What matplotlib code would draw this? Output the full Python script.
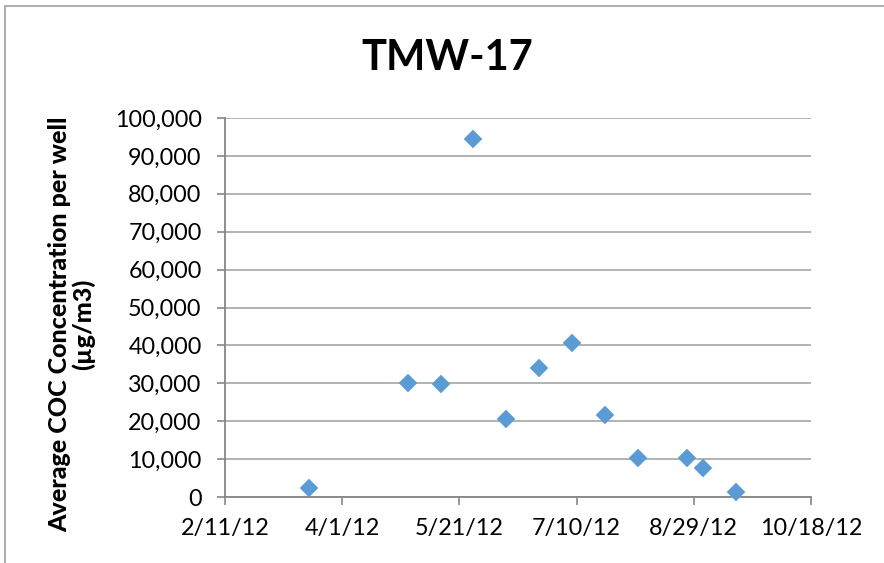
import datetime as dt

import matplotlib
matplotlib.use("Agg")
import matplotlib.pyplot as plt
import matplotlib.dates as mdates
from matplotlib.patches import Rectangle
from matplotlib.ticker import FuncFormatter, FixedLocator

plt.rcParams["font.family"] = ["Lato", "DejaVu Sans"]

# Sampling dates and average COC concentration (ug/m3) for well TMW-17
SAMPLE_DATES = [
    "2012-03-18", "2012-04-29", "2012-05-13", "2012-05-27", "2012-06-10",
    "2012-06-24", "2012-07-08", "2012-07-22", "2012-08-05", "2012-08-26",
    "2012-09-02", "2012-09-16",
]
CONCENTRATION = [
    2300, 30000, 29800, 94500, 20700,
    34100, 40600, 21700, 10200, 10400,
    7600, 1200,
]

X_START = dt.date(2012, 2, 11)
X_END = dt.date(2012, 10, 18)
X_STEP_DAYS = 50
Y_MAX = 100000
Y_STEP = 10000

MARKER_COLOR = "#5B9BD5"
AXIS_GRAY = "#868686"
GRID_GRAY = "#ADADAD"

dates = [dt.datetime.strptime(d, "%Y-%m-%d").date() for d in SAMPLE_DATES]

fig = plt.figure(figsize=(8.84, 5.63), dpi=100)
fig.patch.set_facecolor("white")

# chart-area frame, only the top and left edges fall inside the image
fig.patches.append(Rectangle((5 / 884, -0.5), 2.0, 1.5 - 6 / 563,
                             transform=fig.transFigure, fill=False,
                             edgecolor="#A6A6A6", linewidth=1.3))

ax = fig.add_axes([225 / 884, 66 / 563, 586 / 884, 379 / 563])

ax.plot(dates, CONCENTRATION, linestyle="none", marker="D",
        markersize=9.6, markerfacecolor=MARKER_COLOR,
        markeredgecolor=MARKER_COLOR, markeredgewidth=0.3, zorder=3,
        clip_on=False)

ax.set_xlim(mdates.date2num(X_START), mdates.date2num(X_END))
ax.set_ylim(0, Y_MAX)

n_ticks = (X_END - X_START).days // X_STEP_DAYS + 1
x_ticks = [mdates.date2num(X_START + dt.timedelta(days=X_STEP_DAYS * i))
           for i in range(n_ticks)]
ax.xaxis.set_major_locator(FixedLocator(x_ticks))


def date_label(x, pos):
    d = mdates.num2date(x)
    return f"{d.month}/{d.day}/{d.strftime('%y')}"


ax.xaxis.set_major_formatter(FuncFormatter(date_label))
ax.yaxis.set_major_locator(FixedLocator(range(0, Y_MAX + 1, Y_STEP)))
ax.yaxis.set_major_formatter(FuncFormatter(lambda v, p: f"{int(v):,}"))

ax.grid(axis="y", color=GRID_GRAY, linewidth=1.3)
ax.set_axisbelow(True)
for side in ("top", "right"):
    ax.spines[side].set_visible(False)
for side in ("left", "bottom"):
    ax.spines[side].set_color(AXIS_GRAY)
    ax.spines[side].set_linewidth(1.3)

ax.tick_params(axis="both", direction="out", length=5.8, width=1.2,
               color=AXIS_GRAY, labelsize=16.8, labelcolor="black")
ax.tick_params(axis="y", pad=11)
ax.tick_params(axis="x", pad=9)

ax.set_ylabel("Average COC Concentration per well\n(\u00b5g/m3)",
              fontsize=18, fontweight="black", linespacing=0.98)
ax.yaxis.set_label_coords(-0.222, 0.455)

fig.text(447 / 884, 1 - 58 / 563, "TMW-17", ha="center", va="center",
         fontsize=30, fontweight="bold")

fig.savefig("out.png", dpi=100, facecolor=fig.get_facecolor())
